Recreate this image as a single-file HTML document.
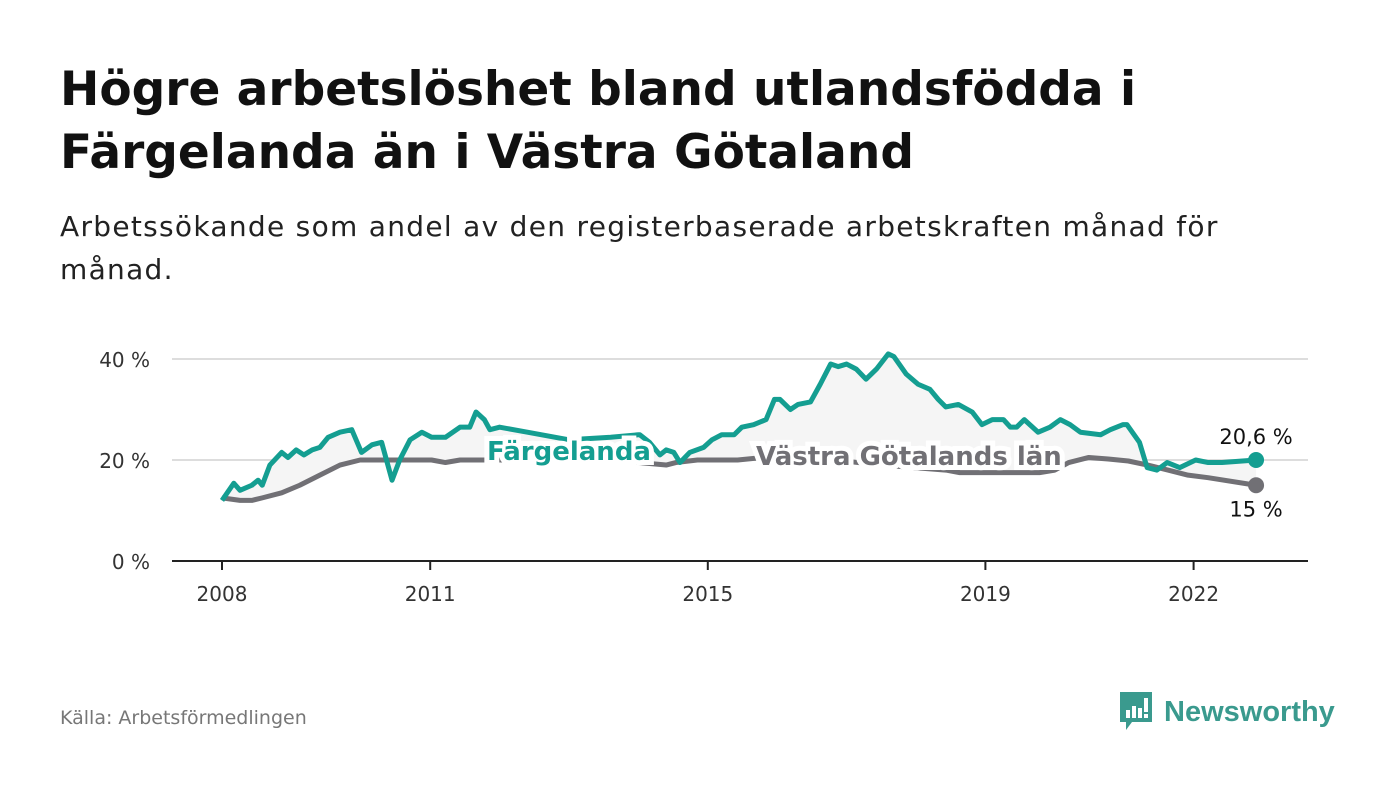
<!DOCTYPE html>
<html><head><meta charset="utf-8">
<style>
body{margin:0;width:1400px;height:794px;background:#fff;font-family:"DejaVu Sans","Liberation Sans",sans-serif;overflow:hidden;position:relative}
h1{position:absolute;left:60px;top:58px;margin:0;font-size:47px;line-height:63px;font-weight:bold;color:#111}
.sub{position:absolute;left:60px;top:205px;font-size:28px;line-height:43px;color:#222;width:1250px;letter-spacing:1.3px}
.src{position:absolute;left:60px;top:707px;font-size:19px;color:#777}
.logo{position:absolute;left:1118px;top:690px;display:flex;align-items:center;gap:10px;color:#3a9a8e;font-size:29px;font-weight:bold;font-family:"Liberation Sans",sans-serif}
</style></head><body>
<h1>Högre arbetslöshet bland utlandsfödda i<br>Färgelanda än i Västra Götaland</h1>
<div class="sub">Arbetssökande som andel av den registerbaserade arbetskraften månad för<br>månad.</div>
<svg id="chart" width="1400" height="794" style="position:absolute;left:0;top:0"></svg>
<div class="src">Källa: Arbetsförmedlingen</div>
<div class="logo">
<svg width="36" height="44" viewBox="0 0 36 44"><path d="M2 2h32v30H14l-6 8v-8H2z" fill="#3a9a8e"/><rect x="8" y="20" width="4" height="8" fill="#fff"/><rect x="14" y="16" width="4" height="12" fill="#fff"/><rect x="20" y="18" width="4" height="10" fill="#fff"/><rect x="26" y="8" width="4" height="14" fill="#fff"/><rect x="26" y="24" width="4" height="4" fill="#fff"/></svg>
<span>Newsworthy</span></div>
<script>
const fDates=[0,0.17,0.26,0.43,0.52,0.58,0.69,0.86,0.95,1.07,1.18,1.30,1.41,1.53,1.70,1.87,2.01,2.16,2.30,2.45,2.56,2.71,2.88,3.02,3.22,3.43,3.57,3.66,3.78,3.86,4.0,4.4,5.0,5.6,6.0,6.02,6.16,6.31,6.40,6.51,6.60,6.74,6.94,7.06,7.20,7.38,7.49,7.66,7.84,7.96,8.04,8.19,8.30,8.48,8.62,8.77,8.88,9.00,9.14,9.28,9.43,9.60,9.68,9.86,10.03,10.20,10.32,10.43,10.61,10.81,10.95,11.10,11.26,11.36,11.45,11.56,11.76,11.93,12.08,12.22,12.37,12.66,12.80,12.98,13.04,13.22,13.33,13.47,13.62,13.80,14.03,14.21,14.41,14.90];
const fVals=[12,15.4,14,15,16,15,19,21.5,20.5,22,21,22,22.5,24.5,25.5,26,21.5,23,23.5,16,20,24,25.5,24.5,24.5,26.5,26.5,29.5,28,26,26.5,25.5,24,24.5,25,25,23.5,21,22,21.5,19.5,21.5,22.5,24,25,25,26.5,27,28,32,32,30,31,31.5,35,39,38.5,39,38,36,38,41,40.5,37,35,34,32,30.5,31,29.5,27,28,28,26.5,26.5,28,25.5,26.5,28,27,25.5,25,26,27,27,23.5,18.5,18,19.5,18.5,20,19.5,19.5,20,20.6];
const vDates=[0,0.26,0.43,0.58,0.86,1.12,1.41,1.70,1.99,2.27,2.56,2.85,3.02,3.22,3.43,3.66,4.2,5.0,5.6,6.0,6.4,6.54,6.85,7.14,7.43,7.8,8.5,9.5,10.43,10.63,10.92,11.20,11.49,11.78,12.0,12.20,12.49,12.77,13.06,13.34,13.63,13.92,14.21,14.90];
const vVals=[12.5,12,12,12.5,13.5,15,17,19,20,20,20,20,20,19.5,20,20,20,20,20,19.5,19,19.5,20,20,20,20.5,20.5,19,18,17.5,17.5,17.5,17.5,17.5,18,19.5,20.5,20.2,19.8,19,18,17,16.5,15];
const yTicks=[0,20,40];
const xTicks=[2008,2011,2015,2019,2022];
const svg=document.getElementById('chart');const NS='http://www.w3.org/2000/svg';
const x=d=>222+d*69.4, xy=yr=>222+(yr-2008)*69.4, y=v=>561-v*5.05;
function el(t,a,p){const e=document.createElementNS(NS,t);for(const k in a)e.setAttribute(k,a[k]);(p||svg).appendChild(e);return e;}
yTicks.forEach(t=>{
 if(t>0){const g=el('line',{x1:172,x2:1308,y1:y(t),y2:y(t),stroke:'#ddd','stroke-width':2});}
 const l=el('text',{x:150,y:y(t)+8,'text-anchor':'end','font-size':20,fill:'#333'});l.textContent=t+' %';
 
});
const ax=el('line',{x1:172,x2:1308,y1:561,y2:561,stroke:'#222','stroke-width':2});

xTicks.forEach(t=>{el('line',{x1:xy(t),x2:xy(t),y1:561,y2:570,stroke:'#222','stroke-width':2});
 const l=el('text',{x:xy(t),y:601,'text-anchor':'middle','font-size':20,fill:'#333'});l.textContent=t;
 });
const fp=fDates.map((d,i)=>x(d)+','+y(fVals[i]));const vp=vDates.map((d,i)=>x(d)+','+y(vVals[i]));
const area=el('polygon',{points:fp.concat(vp.slice().reverse()).join(' '),fill:'#f5f5f5'});

const vl=el('polyline',{points:vp.join(' '),fill:'none',stroke:'#717075','stroke-width':5,'stroke-linejoin':'round'});

const fl=el('polyline',{points:fp.join(' '),fill:'none',stroke:'#149e91','stroke-width':5,'stroke-linejoin':'round'});

const n=fDates.length-1,m=vDates.length-1;
const d1=el('circle',{cx:x(fDates[n]),cy:y(fVals[n]),r:8,fill:'#149e91'});
const d2=el('circle',{cx:x(vDates[m]),cy:y(vVals[m]),r:8,fill:'#717075'});
function lab(txt,xx,yy,col,name,anchor,bold){const t=el('text',{x:xx,y:yy,'font-size':bold?26:21,'font-weight':bold?'bold':'normal',fill:col,'text-anchor':anchor,stroke:'#fff','stroke-width':bold?10:0,'paint-order':'stroke'});t.textContent=txt;
 }
lab('Färgelanda',487,460,'#149e91','fargelanda-label','start',true);
lab('Västra Götalands län',756,465,'#717075','vastra-gotaland-label','start',true);
lab('20,6 %',x(fDates[n]),y(fVals[n])-16,'#111','fargelanda-end-value','middle',false);
lab('15 %',x(vDates[m]),y(vVals[m])+31,'#111','vastra-gotaland-end-value','middle',false);
</script>
</body></html>
